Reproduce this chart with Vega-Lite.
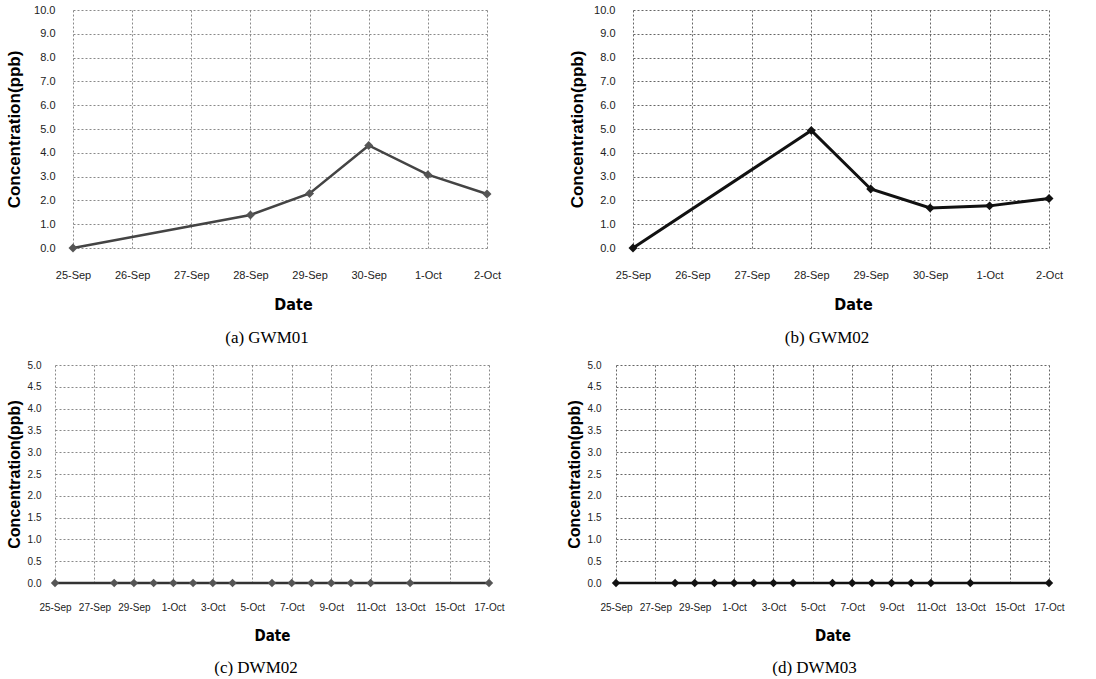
{
  "$schema": "https://vega.github.io/schema/vega-lite/v6.json",
  "padding": {"left": 5, "top": 4, "right": 0, "bottom": 0},
  "background": "white",
  "config": {
    "view": {"stroke": null},
    "axis": {"domain": false, "ticks": false, "gridColor": "#8a8a8a", "gridDash": [2, 2], "gridWidth": 1, "labelColor": "#222", "titleColor": "#000", "labelFont": "Liberation Sans"},
    "axisX": {"titleFont": "Liberation Sans Narrow, DejaVu Sans Condensed, Liberation Sans", "titleFontWeight": "bold", "titleFontSize": 16, "labelAngle": 0, "labelFlush": false, "labelOverlap": false, "labelBound": false},
    "axisY": {"titleFont": "Liberation Sans", "titleFontWeight": "bold"},
    "title": {"font": "Liberation Serif", "fontWeight": "normal", "color": "#000", "fontSize": 17, "orient": "bottom", "anchor": "middle", "frame": "group"}
  },
  "vconcat": [
    {
      "hconcat": [
        {
          "width": 432, "height": 238,
          "title": {"text": "(a)  GWM01", "offset": 18, "dx": -4},
          "data": {"values": [
            {"date": "2011-09-25T00:00:00", "value": 0.0},
            {"date": "2011-09-28T00:00:00", "value": 1.39},
            {"date": "2011-09-29T00:00:00", "value": 2.29},
            {"date": "2011-09-30T00:00:00", "value": 4.31},
            {"date": "2011-10-01T00:00:00", "value": 3.08},
            {"date": "2011-10-02T00:00:00", "value": 2.27}
          ]},
          "encoding": {
            "x": {"field": "date", "type": "temporal", "scale": {"domain": [{"year": 2011, "month": 9, "date": 25}, {"year": 2011, "month": 10, "date": 2}], "nice": false, "range": [18, 432]},
                  "axis": {"title": "Date", "format": "%-d-%b", "tickCount": {"interval": "day", "step": 1}, "labelFontSize": 11, "labelPadding": 21, "titlePadding": 16, "titleX": 238}},
            "y": {"field": "value", "type": "quantitative", "scale": {"domain": [0, 10]},
                  "axis": {"title": "Concentration(ppb)", "format": ".1f", "values": [0,1,2,3,4,5,6,7,8,9,10], "labelFontSize": 11, "labelPadding": 18, "titlePadding": 10, "titleFontSize": 17, "offset": -18}}
          },
          "layer": [
            {"mark": {"type": "line", "color": "#444", "strokeWidth": 2.5}},
            {"mark": {"type": "point", "shape": "diamond", "filled": true, "color": "#555", "size": 80, "opacity": 1}}
          ]
        },
        {
          "width": 416, "height": 238,
          "title": {"text": "(b)  GWM02", "offset": 18, "dx": -14},
          "data": {"values": [
            {"date": "2011-09-25T00:00:00", "value": 0.0},
            {"date": "2011-09-28T00:00:00", "value": 4.94},
            {"date": "2011-09-29T00:00:00", "value": 2.48},
            {"date": "2011-09-30T00:00:00", "value": 1.68},
            {"date": "2011-10-01T00:00:00", "value": 1.77},
            {"date": "2011-10-02T00:00:00", "value": 2.08}
          ]},
          "encoding": {
            "x": {"field": "date", "type": "temporal", "scale": {"domain": [{"year": 2011, "month": 9, "date": 25}, {"year": 2011, "month": 10, "date": 2}], "nice": false},
                  "axis": {"title": "Date", "format": "%-d-%b", "tickCount": {"interval": "day", "step": 1}, "labelFontSize": 11, "labelPadding": 21, "titlePadding": 16, "gridColor": "#666", "titleX": 220}},
            "y": {"field": "value", "type": "quantitative", "scale": {"domain": [0, 10]},
                  "axis": {"title": "Concentration(ppb)", "format": ".1f", "values": [0,1,2,3,4,5,6,7,8,9,10], "labelFontSize": 11, "labelPadding": 18, "titlePadding": 7, "titleFontSize": 17, "gridColor": "#666"}}
          },
          "layer": [
            {"mark": {"type": "line", "color": "#111", "strokeWidth": 3}},
            {"mark": {"type": "point", "shape": "diamond", "filled": true, "color": "#111", "size": 80, "opacity": 1}}
          ]
        }
      ],
      "bounds": "flush",
      "spacing": 146
    },
    {
      "hconcat": [
        {
          "width": 434, "height": 218,
          "title": {"text": "(c)  DWM02", "offset": 17, "dx": -16},
          "data": {"values": [
            {"date": "2011-09-25T00:00:00", "value": 0},
            {"date": "2011-09-28T00:00:00", "value": 0},
            {"date": "2011-09-29T00:00:00", "value": 0},
            {"date": "2011-09-30T00:00:00", "value": 0},
            {"date": "2011-10-01T00:00:00", "value": 0},
            {"date": "2011-10-02T00:00:00", "value": 0},
            {"date": "2011-10-03T00:00:00", "value": 0},
            {"date": "2011-10-04T00:00:00", "value": 0},
            {"date": "2011-10-06T00:00:00", "value": 0},
            {"date": "2011-10-07T00:00:00", "value": 0},
            {"date": "2011-10-08T00:00:00", "value": 0},
            {"date": "2011-10-09T00:00:00", "value": 0},
            {"date": "2011-10-10T00:00:00", "value": 0},
            {"date": "2011-10-11T00:00:00", "value": 0},
            {"date": "2011-10-13T00:00:00", "value": 0},
            {"date": "2011-10-17T00:00:00", "value": 0}
          ]},
          "encoding": {
            "x": {"field": "date", "type": "temporal", "scale": {"domain": [{"year": 2011, "month": 9, "date": 25}, {"year": 2011, "month": 10, "date": 17}], "nice": false},
                  "axis": {"title": "Date", "format": "%-d-%b", "tickCount": {"interval": "day", "step": 2}, "labelFontSize": 10, "labelPadding": 19, "titlePadding": 16, "titleFontSize": 15}},
            "y": {"field": "value", "type": "quantitative", "scale": {"domain": [0, 5]},
                  "axis": {"title": "Concentration(ppb)", "format": ".1f", "values": [0,0.5,1,1.5,2,2.5,3,3.5,4,4.5,5], "labelFontSize": 10, "labelPadding": 14, "titlePadding": 5, "titleFontSize": 16}}
          },
          "layer": [
            {"mark": {"type": "line", "color": "#333", "strokeWidth": 2.5}},
            {"mark": {"type": "point", "shape": "diamond", "filled": true, "color": "#555", "size": 70, "opacity": 1}}
          ]
        },
        {
          "width": 433, "height": 218,
          "title": {"text": "(d)  DWM03", "offset": 17, "dx": -18},
          "data": {"values": [
            {"date": "2011-09-25T00:00:00", "value": 0},
            {"date": "2011-09-28T00:00:00", "value": 0},
            {"date": "2011-09-29T00:00:00", "value": 0},
            {"date": "2011-09-30T00:00:00", "value": 0},
            {"date": "2011-10-01T00:00:00", "value": 0},
            {"date": "2011-10-02T00:00:00", "value": 0},
            {"date": "2011-10-03T00:00:00", "value": 0},
            {"date": "2011-10-04T00:00:00", "value": 0},
            {"date": "2011-10-06T00:00:00", "value": 0},
            {"date": "2011-10-07T00:00:00", "value": 0},
            {"date": "2011-10-08T00:00:00", "value": 0},
            {"date": "2011-10-09T00:00:00", "value": 0},
            {"date": "2011-10-10T00:00:00", "value": 0},
            {"date": "2011-10-11T00:00:00", "value": 0},
            {"date": "2011-10-13T00:00:00", "value": 0},
            {"date": "2011-10-17T00:00:00", "value": 0}
          ]},
          "encoding": {
            "x": {"field": "date", "type": "temporal", "scale": {"domain": [{"year": 2011, "month": 9, "date": 25}, {"year": 2011, "month": 10, "date": 17}], "nice": false},
                  "axis": {"title": "Date", "format": "%-d-%b", "tickCount": {"interval": "day", "step": 2}, "labelFontSize": 10, "labelPadding": 19, "titlePadding": 16, "titleFontSize": 15, "gridColor": "#666"}},
            "y": {"field": "value", "type": "quantitative", "scale": {"domain": [0, 5]},
                  "axis": {"title": "Concentration(ppb)", "format": ".1f", "values": [0,0.5,1,1.5,2,2.5,3,3.5,4,4.5,5], "labelFontSize": 10, "labelPadding": 15, "titlePadding": 5, "titleFontSize": 16, "gridColor": "#666"}}
          },
          "layer": [
            {"mark": {"type": "line", "color": "#111", "strokeWidth": 2.5}},
            {"mark": {"type": "point", "shape": "diamond", "filled": true, "color": "#111", "size": 70, "opacity": 1}}
          ]
        }
      ],
      "bounds": "flush",
      "spacing": 127
    }
  ],
  "spacing": 14
}
